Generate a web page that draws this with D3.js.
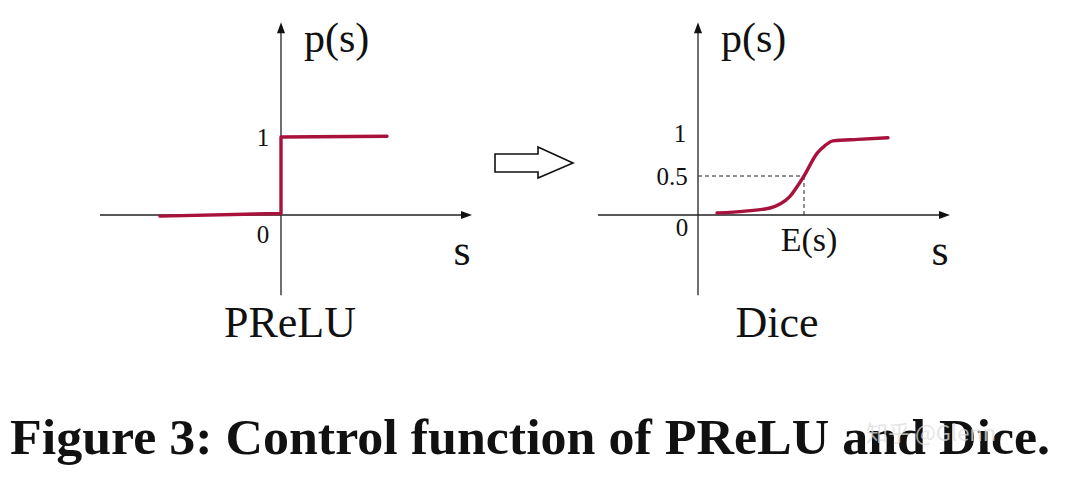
<!DOCTYPE html>
<html lang="en">
<head>
    <meta charset="UTF-8">
    <title>Control function of PReLU and Dice</title>
    <script src="https://d3js.org/d3.v7.min.js"></script>
    <style>
        body {
            margin: 0;
            padding: 0;
            background-color: #fff;
        }
        svg {
            display: block;
            font-family: "Liberation Serif", "DejaVu Serif", serif;
        }
        .axis-line {
            stroke: #222;
            stroke-width: 1.3px;
        }
        .curve {
            fill: none;
            stroke: #a8123c;
            stroke-width: 3.4px;
            stroke-linejoin: round;
            stroke-linecap: round;
        }
        .guide {
            stroke: #222;
            stroke-width: 1px;
            stroke-dasharray: 4 3;
        }
        .tick-label {
            font-size: 25px;
            fill: #111;
        }
    </style>
</head>
<body>
<svg width="1080" height="478"></svg>
<script>
    // PReLU: step control function
    const preluS = [-1.21, 0, 0, 1.06];
    const preluP = [-0.015, 0.02, 1.0, 1.01];

    // Dice: smooth control function
    const diceS = [0.19, 0.47, 0.72, 0.82, 0.92, 1.02, 1.06, 1.19, 1.27, 1.35, 1.6, 1.9];
    const diceP = [0.026, 0.05, 0.09, 0.14, 0.24, 0.42, 0.5, 0.79, 0.89, 0.95, 0.97, 0.99];
    const diceMean = 1.06;   // E(s)

    const panels = [
        { name: "PReLU", s: preluS, p: preluP, origin: 281, sRange: [-1.81, 1.91],
          ticks: [{ v: 1, t: "1", dx: -18, dy: 9 }, { v: 0, t: "0", dx: -18, dy: 28 }] },
        { name: "Dice", s: diceS, p: diceP, origin: 698, sRange: [-1.0, 2.52],
          ticks: [{ v: 1, t: "1", dx: -18, dy: 5 }, { v: 0.5, t: "0.5", dx: -26, dy: 9 },
                  { v: 0, t: "0", dx: -16, dy: 21 }] }
    ];

    const svg = d3.select("svg");
    const pRange = [-1.03, 2.47];

    const y = d3.scaleLinear().domain([0, 1]).range([215, 137]);

    function arrowHead(g, x, yy, dir) {
        // small filled triangle at the end of an axis
        const pts = dir === "right"
            ? [[x, yy], [x - 11, yy - 4], [x - 11, yy + 4]]
            : [[x, yy], [x - 4, yy + 11], [x + 4, yy + 11]];
        g.append("path").attr("d", d3.line()(pts) + "Z").attr("fill", "#111");
    }

    panels.forEach(pn => {
        const x = d3.scaleLinear().domain([0, 1]).range([pn.origin, pn.origin + 100]);
        const g = svg.append("g");

        // axes
        g.append("line").attr("class", "axis-line")
            .attr("x1", x(pn.sRange[0])).attr("x2", x(pn.sRange[1]) - 4)
            .attr("y1", y(0)).attr("y2", y(0));
        arrowHead(g, x(pn.sRange[1]), y(0), "right");
        g.append("line").attr("class", "axis-line")
            .attr("x1", x(0)).attr("x2", x(0))
            .attr("y1", y(pRange[0])).attr("y2", y(pRange[1]) + 4);
        arrowHead(g, x(0), y(pRange[1]), "up");

        // tick labels
        g.selectAll(".tick-label").data(pn.ticks).join("text")
            .attr("class", "tick-label")
            .attr("x", d => x(0) + d.dx)
            .attr("y", d => y(d.v) + d.dy)
            .attr("text-anchor", "middle")
            .text(d => d.t);

        // axis titles
        g.append("text").attr("x", x(0) + 23).attr("y", 52)
            .attr("font-size", 42).attr("fill", "#111").text("p(s)");
        g.append("text").attr("x", x(pn.sRange[1]) - 10).attr("y", 265)
            .attr("text-anchor", "middle")
            .attr("font-size", 44).attr("fill", "#111").text("s");

        // panel name
        g.append("text").attr("x", x(0) + (pn.name === "Dice" ? 79 : 9)).attr("y", 337)
            .attr("text-anchor", "middle")
            .attr("font-size", 44).attr("fill", "#111").text(pn.name);

        if (pn.name === "Dice") {
            g.append("line").attr("class", "guide")
                .attr("x1", x(0)).attr("x2", x(diceMean))
                .attr("y1", y(0.5)).attr("y2", y(0.5));
            g.append("line").attr("class", "guide")
                .attr("x1", x(diceMean)).attr("x2", x(diceMean))
                .attr("y1", y(0.5)).attr("y2", y(0));
            g.append("text").attr("x", x(diceMean) + 5).attr("y", 251)
                .attr("text-anchor", "middle")
                .attr("font-size", 34).attr("fill", "#111").text("E(s)");
        }

        // control function curve
        const pts = pn.s.map((s, i) => [s, pn.p[i]]);
        const line = d3.line()
            .x(d => x(d[0])).y(d => y(d[1]))
            .curve(pn.name === "Dice" ? d3.curveMonotoneX : d3.curveLinear);
        g.append("path").attr("class", "curve").attr("d", line(pts));
    });

    // hollow arrow between the panels
    const arrowPts = [[495, 154], [538, 154], [538, 147], [573, 163], [538, 178], [538, 172], [495, 172]];
    svg.append("path")
        .attr("d", d3.line()(arrowPts) + "Z")
        .attr("fill", "#fff").attr("stroke", "#111").attr("stroke-width", 1.6)
        .attr("stroke-linejoin", "miter");

    // caption
    svg.append("text")
        .attr("x", 10).attr("y", 454)
        .attr("font-size", 51).attr("font-weight", "bold").attr("fill", "#111")
        .attr("textLength", 1040).attr("lengthAdjust", "spacingAndGlyphs")
        .text("Figure 3: Control function of PReLU and Dice.");

    // faint watermark, drawn over the caption as in the source image
    svg.append("text")
        .attr("x", 866).attr("y", 441)
        .attr("font-family", "Noto Sans CJK SC, sans-serif")
        .attr("font-size", 22).attr("fill", "#ddd").attr("opacity", 0.75)
        .text("知乎 @Glenn");
</script>
</body>
</html>
